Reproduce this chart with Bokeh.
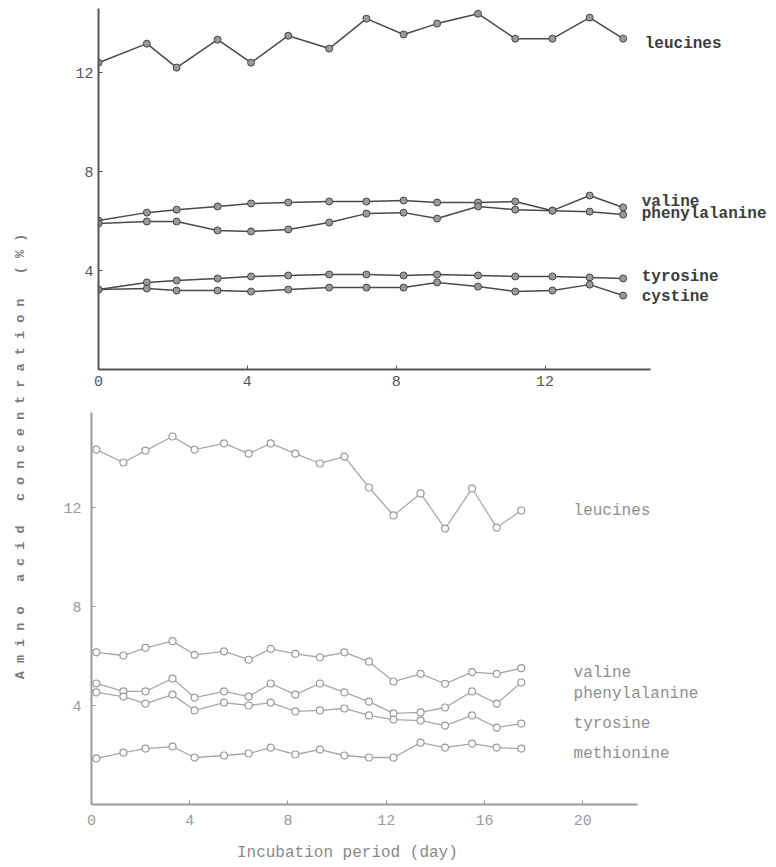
import math
from bokeh.plotting import figure
from bokeh.models import Range1d, Label, FixedTicker
from bokeh.layouts import row, column
from bokeh.embed import file_html
from bokeh.resources import INLINE

FONT = "Liberation Mono"

# ---- upper panel data ----
top_days = [0, 1.3, 2.1, 3.2, 4.1, 5.1, 6.2, 7.2, 8.2, 9.1, 10.2, 11.2, 12.2, 13.2, 14.1]
top_leucines = [12.40, 13.17, 12.20, 13.33, 12.40, 13.49, 12.97, 14.18, 13.54, 13.98, 14.38, 13.37, 13.37, 14.22, 13.37]
top_valine = [6.02, 6.34, 6.46, 6.59, 6.71, 6.75, 6.79, 6.79, 6.83, 6.75, 6.75, 6.79, 6.42, 7.03, 6.55]
top_phenylalanine = [5.90, 5.98, 5.98, 5.62, 5.58, 5.66, 5.94, 6.30, 6.34, 6.10, 6.59, 6.46, 6.42, 6.38, 6.26]
top_tyrosine = [3.23, 3.52, 3.60, 3.68, 3.76, 3.80, 3.84, 3.84, 3.80, 3.84, 3.80, 3.76, 3.76, 3.72, 3.68]
top_cystine = [3.23, 3.27, 3.19, 3.19, 3.15, 3.23, 3.31, 3.31, 3.31, 3.52, 3.35, 3.15, 3.19, 3.43, 2.99]
top_x_ticks = [0, 4, 8, 12]
top_y_ticks = [4, 8, 12]

# ---- lower panel data ----
bot_days = [0.2, 1.3, 2.2, 3.3, 4.2, 5.4, 6.4, 7.3, 8.3, 9.3, 10.3, 11.3, 12.3, 13.4, 14.4, 15.5, 16.5, 17.5]
bot_leucines = [14.34, 13.82, 14.30, 14.87, 14.34, 14.59, 14.18, 14.59, 14.18, 13.78, 14.06, 12.81, 11.68, 12.57, 11.15, 12.77, 11.19, 11.88]
bot_valine = [6.15, 6.02, 6.33, 6.60, 6.05, 6.19, 5.85, 6.29, 6.09, 5.95, 6.15, 5.77, 4.97, 5.28, 4.88, 5.35, 5.28, 5.51]
bot_phenylalanine = [4.89, 4.57, 4.57, 5.09, 4.32, 4.57, 4.36, 4.89, 4.44, 4.89, 4.53, 4.16, 3.68, 3.72, 3.92, 4.57, 4.08, 4.93]
bot_tyrosine = [4.53, 4.36, 4.08, 4.44, 3.80, 4.12, 4.00, 4.12, 3.76, 3.80, 3.88, 3.60, 3.43, 3.39, 3.19, 3.60, 3.11, 3.27]
bot_methionine = [1.86, 2.10, 2.26, 2.34, 1.90, 1.98, 2.06, 2.30, 2.02, 2.22, 1.98, 1.90, 1.90, 2.50, 2.30, 2.46, 2.30, 2.26]
bot_x_ticks = [0, 4, 8, 12, 16, 20]
bot_y_ticks = [4, 8, 12]

NB = "\u00a0"
y_title = NB.join("Amino") + NB * 3 + NB.join("acid") + NB * 3 + NB.join("concentration") + NB * 3 + NB.join("(%)")
x_title = "Incubation period (day)"


def clean(p):
    p.xgrid.visible = False
    p.ygrid.visible = False
    p.outline_line_color = None
    p.background_fill_color = None
    p.border_fill_color = None


def style_axes(p, xticks, yticks, color, ylab_standoff, xbounds):
    for ax in (p.xaxis[0], p.yaxis[0]):
        ax.axis_line_color = color
        ax.axis_line_width = 2
        ax.major_tick_in = 4
        ax.major_tick_out = 0
        ax.major_tick_line_color = color
        ax.minor_tick_line_color = None
        ax.major_label_text_font = FONT
        ax.major_label_text_font_size = "15px"
        ax.major_label_text_color = color
    p.xaxis[0].ticker = FixedTicker(ticks=xticks)
    p.yaxis[0].ticker = FixedTicker(ticks=yticks)
    p.xaxis[0].bounds = xbounds
    p.xaxis[0].major_label_standoff = 6
    p.yaxis[0].major_label_standoff = ylab_standoff
    clean(p)


# ---- label strip (shared y title) ----
pl = figure(width=38, height=866, x_range=Range1d(0, 1), y_range=Range1d(0, 1),
            output_backend="svg", toolbar_location=None,
            x_axis_location=None, y_axis_location=None,
            min_border=0, min_border_left=0, min_border_right=0,
            min_border_top=0, min_border_bottom=0)
clean(pl)
pl.add_layout(Label(x=0.53, y=0.4734, text=y_title, angle=math.pi / 2,
                    text_align="center", text_baseline="middle",
                    text_font=FONT, text_font_size="13.5px",
                    text_color="#7a7a7a", text_font_style="bold"))

# ---- upper panel ----
p1 = figure(width=732, height=395, x_range=Range1d(0, 18.06), y_range=Range1d(0, 14.59),
            output_backend="svg", toolbar_location=None,
            min_border_left=60, min_border_right=0, min_border_top=8, min_border_bottom=26)
style_axes(p1, top_x_ticks, top_y_ticks, "#555555", 5, (0, 14.84))
for ys in (top_leucines, top_valine, top_phenylalanine, top_tyrosine, top_cystine):
    p1.line(top_days, ys, line_color="#4a4a4a", line_width=1.5)
    p1.scatter(top_days, ys, size=7, marker="circle", fill_color="#9a9a9a",
               line_color="#444444", line_width=1)

top_labels = [("leucines", 14.68, 13.17), ("valine", 14.6, 6.75),
              ("phenylalanine", 14.6, 6.30), ("tyrosine", 14.6, 3.72),
              ("cystine", 14.6, 2.95)]
for txt, lx, ly in top_labels:
    p1.add_layout(Label(x=lx, y=ly, text=txt, text_align="left", text_baseline="middle",
                        text_font=FONT, text_font_size="16px", text_font_style="bold",
                        text_color="#3d3d3d"))

# ---- lower panel ----
p2 = figure(width=732, height=441, x_range=Range1d(0, 27.65), y_range=Range1d(0, 15.84),
            output_backend="svg", toolbar_location=None,
            min_border_left=53, min_border_right=0, min_border_top=17, min_border_bottom=32)
style_axes(p2, bot_x_ticks, bot_y_ticks, "#9a9a9a", 10, (0, 22.23))
p2.xaxis[0].major_label_standoff = 10
for ys in (bot_leucines, bot_valine, bot_phenylalanine, bot_tyrosine, bot_methionine):
    p2.line(bot_days, ys, line_color="#a8a8a8", line_width=1.3)
    p2.scatter(bot_days, ys, size=7, marker="circle", fill_color="white",
               line_color="#9a9a9a", line_width=1.2)

bot_labels = [("leucines", 19.63, 11.88), ("valine", 19.63, 5.33),
              ("phenylalanine", 19.63, 4.48), ("tyrosine", 19.63, 3.27),
              ("methionine", 19.63, 2.06)]
for txt, lx, ly in bot_labels:
    p2.add_layout(Label(x=lx, y=ly, text=txt, text_align="left", text_baseline="middle",
                        text_font=FONT, text_font_size="16px",
                        text_color="#8f8f8f"))

# ---- x title strip ----
p3 = figure(width=732, height=30, x_range=Range1d(0, 27.65), y_range=Range1d(0, 1),
            output_backend="svg", toolbar_location=None,
            x_axis_location=None, y_axis_location=None,
            min_border_left=53, min_border_right=0, min_border_top=0, min_border_bottom=0)
clean(p3)
p3.add_layout(Label(x=10.42, y=0.45, text=x_title, text_align="center", text_baseline="middle",
                    text_font=FONT, text_font_size="16px", text_color="#8a8a8a"))

layout = row(pl, column(row(p1), row(p2), row(p3)))
open("out.html", "w").write(file_html(layout, INLINE))
